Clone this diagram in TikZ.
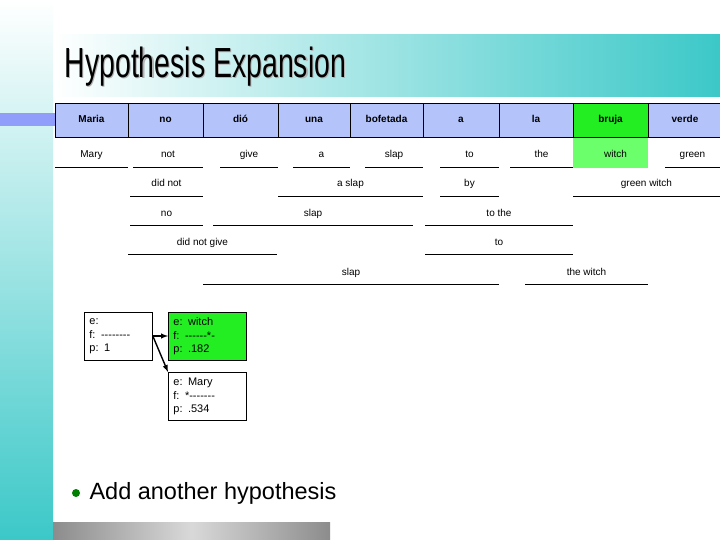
\documentclass[tikz,border=0pt]{standalone}
\usepackage{fontspec}
\setmainfont{Liberation Sans}
\newcommand\dsh{-{}}
\begin{document}
\begin{tikzpicture}[x=1pt,y=-1pt,
 cell/.style={draw,fill=hdr,minimum height=34pt,inner sep=0pt,text height=8pt,text depth=2pt,font=\fontsize{10}{12}\selectfont\bfseries},
 ph/.style={inner sep=1pt,text height=8pt,text depth=2pt,font=\fontsize{10}{12}\selectfont},
 ul/.style={line width=0.7pt},
 hyp/.style={draw,line width=0.8pt,align=left,inner ysep=2pt,inner xsep=5pt,anchor=north west,font=\fontsize{11}{13.5}\selectfont},
 arr/.style={-latex,line width=1.4pt}]
\definecolor{teal}{HTML}{3CC8C8}
\definecolor{hdr}{HTML}{B4C4FA}
\definecolor{g1}{HTML}{22EE22}
\definecolor{g2}{HTML}{6CFF6C}
\useasboundingbox (0,0) rectangle (720,540);
\fill[white] (0,0) rectangle (720,540);
\shade[top color=white,bottom color=teal] (0,0) rectangle (53,540);
\shade[left color=white,right color=teal] (53,35) rectangle (720,97);
\fill[hdr!80!blue] (0,113) rectangle (55,126);
\shade[left color=gray!90,right color=gray!90,middle color=gray!30] (53,522) rectangle (330,540);
% title
\node[anchor=west,xscale=0.73,yscale=1.08,font=\fontsize{39}{40}\selectfont] (title) at (62,67) {\textcolor{gray!60}{\rlap{\kern1.5pt\raisebox{-1.5pt}{Hypothesis Expansion}}}Hypothesis Expansion};
% header
\fill[g2] (573,137) rectangle (648,168);
\foreach \a/\b/\t/\n in {55/128/Maria/h1,128/203/no/h2,203/278/dió/h3,278/350/una/h4,350/423/bofetada/h5,423/499/a/h6,499/573/la/h7,573/648/bruja/h8,648/722/verde/h9}{
  \node[cell,minimum width={\b-\a}] (\n) at ({(\a+\b)/2},120) {\t};}
\node[cell,fill=g1,minimum width=75] at (610.5,120) {bruja};
% phrases
\foreach \a/\b/\y/\t [count=\i] in {55/128/155/Mary,133/203/155/not,220/278/155/give,293/350/155/a,365/423/155/slap,440/499/155/to,510/573/155/the,583/648/155/witch,665/720/155/green,
 130/203/184/did not,278/423/184/a slap,440/499/184/by,573/720/184/green witch,
 130/203/213/no,213/413/213/slap,425/573/213/to the,
 128/277/242/did not give,425/573/242/to,
 203/499/272/slap,525/648/272/the witch}{
  \node[ph] (p\i) at ({(\a+\b)/2},\y) {\t};
  \ifnum\i=8\relax\else\draw[ul] (\a,\y+12) -- (\b,\y+12);\fi}
% hypotheses
\node[hyp,minimum width=68,minimum height=48,text width=58] (ha) at (84,312) {e:\\f: \dsh\dsh\dsh\dsh\dsh\dsh\dsh\dsh\\p: 1};
\node[hyp,fill=g1,minimum width=78,minimum height=48,text width=68] (hb) at (168,312) {e: witch\\f: \dsh\dsh\dsh\dsh\dsh\dsh*\dsh\\p: .182};
\node[hyp,minimum width=78,minimum height=48,text width=68] (hc) at (168,372) {e: Mary\\f: *\dsh\dsh\dsh\dsh\dsh\dsh\dsh\\p: .534};
\coordinate (o) at (156,336);
\draw[arr] (ha.east|-o) -- (hb.west|-o);
\draw[arr] (ha.east|-o) -- (hc.north west);
% bullet
\fill[green!50!black] (76,493) circle (4);
\node[anchor=west,font=\fontsize{23.5}{26}\selectfont] (b) at (86,493) {Add another hypothesis};
\end{tikzpicture}
\end{document}
